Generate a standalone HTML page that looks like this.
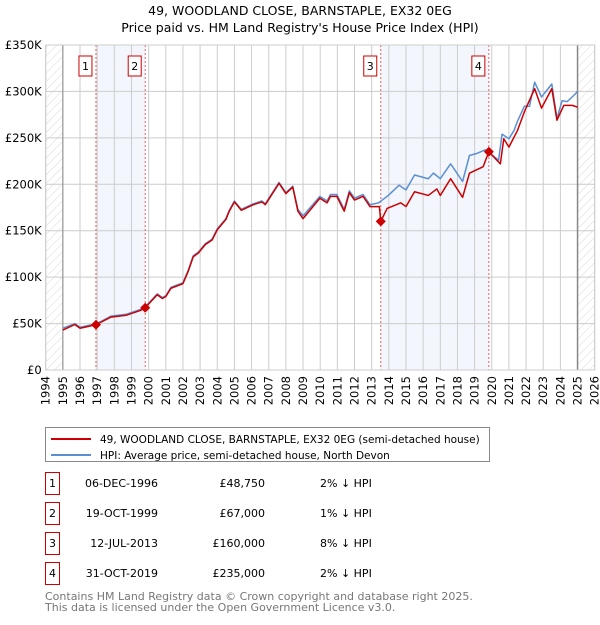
<!DOCTYPE html>
<html><head><meta charset="utf-8"><style>
body{margin:0;background:#fff;font-family:"Liberation Sans","DejaVu Sans",sans-serif;}
svg text{font-family:"DejaVu Sans","Liberation Sans",sans-serif;}
</style></head><body>
<svg width="600" height="620" xmlns="http://www.w3.org/2000/svg" id="chart">
<defs>
<pattern id="hatch" width="6" height="6" patternUnits="userSpaceOnUse" patternTransform="rotate(45)">
<line x1="0" y1="0" x2="0" y2="6" stroke="#d8d8d8" stroke-width="1"/></pattern>
</defs>
<text x="300" y="15" text-anchor="middle" font-size="12.5">49, WOODLAND CLOSE, BARNSTAPLE, EX32 0EG</text>
<text x="300" y="32" text-anchor="middle" font-size="12.5">Price paid vs. HM Land Registry's House Price Index (HPI)</text>
<g id="plot"></g>
<g id="xlabels" font-size="11.5" text-anchor="end">
<text transform="translate(49.7,376) rotate(-90)">1994</text>
<text transform="translate(66.86,376) rotate(-90)">1995</text>
<text transform="translate(84.01,376) rotate(-90)">1996</text>
<text transform="translate(101.17,376) rotate(-90)">1997</text>
<text transform="translate(118.32,376) rotate(-90)">1998</text>
<text transform="translate(135.48,376) rotate(-90)">1999</text>
<text transform="translate(152.64,376) rotate(-90)">2000</text>
<text transform="translate(169.79,376) rotate(-90)">2001</text>
<text transform="translate(186.95,376) rotate(-90)">2002</text>
<text transform="translate(204.1,376) rotate(-90)">2003</text>
<text transform="translate(221.26,376) rotate(-90)">2004</text>
<text transform="translate(238.42,376) rotate(-90)">2005</text>
<text transform="translate(255.57,376) rotate(-90)">2006</text>
<text transform="translate(272.73,376) rotate(-90)">2007</text>
<text transform="translate(289.89,376) rotate(-90)">2008</text>
<text transform="translate(307.04,376) rotate(-90)">2009</text>
<text transform="translate(324.2,376) rotate(-90)">2010</text>
<text transform="translate(341.35,376) rotate(-90)">2011</text>
<text transform="translate(358.51,376) rotate(-90)">2012</text>
<text transform="translate(375.67,376) rotate(-90)">2013</text>
<text transform="translate(392.82,376) rotate(-90)">2014</text>
<text transform="translate(409.98,376) rotate(-90)">2015</text>
<text transform="translate(427.14,376) rotate(-90)">2016</text>
<text transform="translate(444.29,376) rotate(-90)">2017</text>
<text transform="translate(461.45,376) rotate(-90)">2018</text>
<text transform="translate(478.6,376) rotate(-90)">2019</text>
<text transform="translate(495.76,376) rotate(-90)">2020</text>
<text transform="translate(512.92,376) rotate(-90)">2021</text>
<text transform="translate(530.07,376) rotate(-90)">2022</text>
<text transform="translate(547.23,376) rotate(-90)">2023</text>
<text transform="translate(564.39,376) rotate(-90)">2024</text>
<text transform="translate(581.54,376) rotate(-90)">2025</text>
<text transform="translate(598.7,376) rotate(-90)">2026</text>
</g>
<g id="legend">
<rect x="45.5" y="427.5" width="444" height="34" fill="#fff" stroke="#888"/>
<line x1="51" y1="439" x2="91" y2="439" stroke="#cc0000" stroke-width="2"/>
<text x="100" y="443" font-size="10.5">49, WOODLAND CLOSE, BARNSTAPLE, EX32 0EG (semi-detached house)</text>
<line x1="51" y1="455" x2="91" y2="455" stroke="#5b8fd4" stroke-width="2"/>
<text x="100" y="459" font-size="10.5">HPI: Average price, semi-detached house, North Devon</text>
</g>
<g id="table" font-size="11"></g>
<text x="45" y="600" font-size="11" fill="#777">Contains HM Land Registry data © Crown copyright and database right 2025.</text>
<text x="45" y="611" font-size="11" fill="#777">This data is licensed under the Open Government Licence v3.0.</text>
</svg>
<script>
const yTicks=[0,50,100,150,200,250,300,350];
const yTickLabels=["£0","£50K","£100K","£150K","£200K","£250K","£300K","£350K"];
const xYears=[1994,1995,1996,1997,1998,1999,2000,2001,2002,2003,2004,2005,2006,2007,2008,2009,2010,2011,2012,2013,2014,2015,2016,2017,2018,2019,2020,2021,2022,2023,2024,2025,2026];
const hpiT=[1995.0,1995.7,1996.0,1997.0,1997.8,1998.7,1999.5,1999.8,2000.5,2000.8,2001.0,2001.3,2002.0,2002.3,2002.6,2002.9,2003.3,2003.7,2004.0,2004.5,2004.7,2005.0,2005.4,2006.1,2006.6,2006.8,2007.6,2008.0,2008.4,2008.7,2009.0,2009.98,2010.4,2010.6,2010.97,2011.4,2011.7,2012.0,2012.5,2012.9,2013.4,2013.97,2014.6,2015.0,2015.5,2016.3,2016.6,2017.0,2017.6,2018.3,2018.7,2019.1,2019.6,2019.9,2020.4,2020.6,2021.0,2021.3,2021.5,2021.9,2022.2,2022.5,2022.9,2023.5,2023.8,2024.1,2024.4,2024.8,2025.0];
const hpiV=[45,50,46,50,58,60,65,68,82,78,80,89,94,107,123,127,136,141,152,163,172,182,173,179,182,179,202,191,198,173,166,187,182,189,189,173,193,185,189,178,180,188,199,194,210,206,212,206,222,203,231,233,237,233,226,254,249,258,268,284,284,310,294,308,271,290,289,296,300];
const redT=[1995.0,1995.7,1996.0,1996.93,1997.8,1998.7,1999.5,1999.8,2000.5,2000.8,2001.0,2001.3,2002.0,2002.3,2002.6,2002.9,2003.3,2003.7,2004.0,2004.5,2004.7,2005.0,2005.4,2006.1,2006.6,2006.8,2007.6,2008.0,2008.4,2008.7,2009.0,2009.98,2010.4,2010.6,2010.97,2011.4,2011.7,2012.0,2012.5,2012.9,2013.45,2013.53,2013.9,2014.7,2015.0,2015.5,2016.3,2016.8,2017.0,2017.6,2018.3,2018.7,2019.5,2019.83,2020.5,2020.7,2021.0,2021.5,2021.9,2022.5,2022.9,2023.5,2023.8,2024.2,2024.7,2025.0];
const redV=[43,49,45,48.75,57,59,64,67,81,77,79,88,93,106,122,126,135,140,151,162,171,181,172,178,181,178,201,190,197,171,163,185,180,187,187,171,191,183,187,176,176,160,174,180,176,192,188,195,188,206,186,212,219,235,222,249,240,258,278,303,282,303,269,285,285,283];
const saleT=[1996.93,1999.8,2013.53,2019.83];
const saleV=[48.75,67,160,235];
const saleLabels=["1","2","3","4"];
const saleDates=["06-DEC-1996","19-OCT-1999","12-JUL-2013","31-OCT-2019"];
const salePrices=["£48,750","£67,000","£160,000","£235,000"];
const saleDiff=["2% ↓ HPI","1% ↓ HPI","8% ↓ HPI","2% ↓ HPI"];

const NS="http://www.w3.org/2000/svg";
const X0=45.7,X1=594.7,Y0=370,Y1=45;
const xs=t=>X0+(t-1994)/(2026-1994)*(X1-X0);
const ys=v=>Y0-v/350*(Y0-Y1);
const plot=document.getElementById('plot');
function mk(tag,attrs,parent){const e=document.createElementNS(NS,tag);for(const k in attrs)e.setAttribute(k,attrs[k]);(parent||plot).appendChild(e);return e;}
let e;
e=mk('rect',{x:X0,y:Y1,width:X1-X0,height:Y0-Y1,fill:'#fff'});


e=mk('rect',{x:xs(saleT[0]),y:Y1,width:xs(saleT[1])-xs(saleT[0]),height:Y0-Y1,fill:'#eef3fc',opacity:0.7});


e=mk('rect',{x:xs(saleT[2]),y:Y1,width:xs(saleT[3])-xs(saleT[2]),height:Y0-Y1,fill:'#eef3fc',opacity:0.7});


e=mk('rect',{x:X0,y:Y1,width:xs(1995)-X0,height:Y0-Y1,fill:'url(#hatch)'});


e=mk('rect',{x:xs(2025),y:Y1,width:X1-xs(2025),height:Y0-Y1,fill:'url(#hatch)'});


xYears.forEach(y=>{
  e=mk('line',{x1:xs(y),x2:xs(y),y1:Y1,y2:Y0,stroke:'#ccc','stroke-width':1});
  
  
});
yTicks.forEach((v,i)=>{
  e=mk('line',{x1:X0,x2:X1,y1:ys(v),y2:ys(v),stroke:'#ccc','stroke-width':1});
  
  
  e=mk('text',{x:X0-4,y:ys(v)+4,'text-anchor':'end','font-size':11.5});
  e.textContent=yTickLabels[i];
  
  
});
e=mk('line',{x1:xs(1995),x2:xs(1995),y1:Y1,y2:Y0,stroke:'#888','stroke-width':1});


e=mk('line',{x1:xs(2025),x2:xs(2025),y1:Y1,y2:Y0,stroke:'#888','stroke-width':1.5});


saleT.forEach((t,i)=>{
  e=mk('line',{x1:xs(t),x2:xs(t),y1:Y1,y2:Y0,stroke:'#e06060','stroke-width':1,'stroke-dasharray':'2,2'});
  
  
  e=mk('rect',{x:xs(t)-17,y:56,width:13,height:20,fill:'#fff',stroke:'#cc0000'});
  
  
  e=mk('text',{x:xs(t)-10.5,y:70,'text-anchor':'middle','font-size':11});
  e.textContent=saleLabels[i];
  
  
});
e=mk('polyline',{points:hpiT.map((t,i)=>xs(t)+','+ys(hpiV[i])).join(' '),fill:'none',stroke:'#5b8fd4','stroke-width':1.5,'stroke-linejoin':'round'});


e=mk('polyline',{points:redT.map((t,i)=>xs(t)+','+ys(redV[i])).join(' '),fill:'none',stroke:'#cc0000','stroke-width':1.5,'stroke-linejoin':'round'});


saleT.forEach((t,i)=>{
  const cx=xs(t),cy=ys(saleV[i]);
  e=mk('polygon',{points:`${cx},${cy-5} ${cx+5},${cy} ${cx},${cy+5} ${cx-5},${cy}`,fill:'#cc0000'});
  
  
});
e=mk('rect',{x:X0,y:Y1,width:X1-X0,height:Y0-Y1,fill:'none',stroke:'#ccc'});



const tbl=document.getElementById('table');
const rowY=[483,513,543,573];
saleLabels.forEach((l,i)=>{
  const y=rowY[i];
  e=mk('rect',{x:45.5,y:y-10.5,width:14,height:22,fill:'#fff',stroke:'#cc0000'},tbl);
  
  
  e=mk('text',{x:52.5,y:y+4,'text-anchor':'middle'},tbl);e.textContent=l;
  
  
  e=mk('text',{x:158,y:y+4,'text-anchor':'end'},tbl);e.textContent=saleDates[i];
  
  
  e=mk('text',{x:265,y:y+4,'text-anchor':'end'},tbl);e.textContent=salePrices[i];
  
  
  e=mk('text',{x:320,y:y+4},tbl);e.textContent=saleDiff[i];
  
  
});
</script>
</body></html>
